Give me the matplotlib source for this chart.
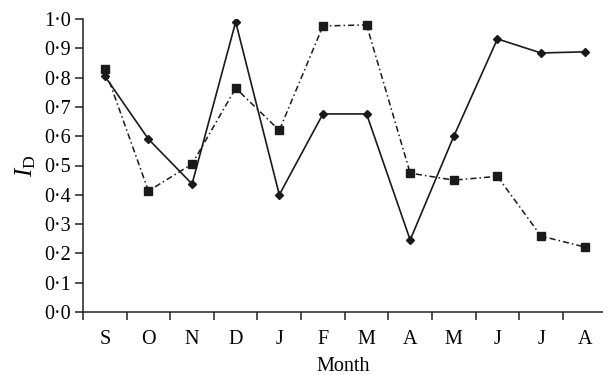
import numpy as np
import matplotlib.pyplot as plt

plt.rcParams['font.family'] = ['Liberation Serif', 'DejaVu Serif']
plt.rcParams['mathtext.fontset'] = 'custom'
plt.rcParams['mathtext.rm'] = 'Liberation Serif'
plt.rcParams['mathtext.it'] = 'Liberation Serif:italic'

months = ['S', 'O', 'N', 'D', 'J', 'F', 'M', 'A', 'M', 'J', 'J', 'A']
solid = [0.805, 0.59, 0.437, 0.99, 0.40, 0.676, 0.676, 0.246, 0.60, 0.932, 0.884, 0.888]
dashed = [0.83, 0.413, 0.505, 0.764, 0.62, 0.976, 0.98, 0.474, 0.45, 0.463, 0.259, 0.222]
yticks = [0.0, 0.1, 0.2, 0.3, 0.4, 0.5, 0.6, 0.7, 0.8, 0.9, 1.0]

fig = plt.figure(figsize=(6.03, 3.75), dpi=100)
ax = fig.add_axes([83 / 603, 1 - 312 / 375, 520 / 603, 293 / 375])

x = np.arange(len(months)) + 0.5
ax.plot(x, dashed, color='#1a1a1a', lw=1.1, linestyle=(0, (4, 2, 1, 2)),
        marker='s', markersize=6, zorder=3)
ax.plot(x, solid, color='#1a1a1a', lw=1.2, linestyle='-',
        marker='D', markersize=4, zorder=4)

ax.set_xlim(0, 11.92)
ax.set_ylim(0, 1.0)
ax.set_yticks(yticks)
ax.set_yticklabels([f'{v:.1f}'.replace('.', '\u00b7') for v in yticks])
ax.set_xticks(np.arange(0, 12))
ax.set_xticklabels([])
ax.set_xticks(x, minor=True)
ax.set_xticklabels(months, minor=True)
ax.tick_params(axis='both', which='both', labelsize=14.5, color='#222222', width=1.1)
ax.tick_params(axis='x', which='minor', length=0, pad=13)
ax.tick_params(axis='y', length=6, direction='out', pad=3)
ax.tick_params(axis='x', which='major', direction='out', length=6)

for s in ['top', 'right']:
    ax.spines[s].set_visible(False)
for s in ['left', 'bottom']:
    ax.spines[s].set_linewidth(1.1)
    ax.spines[s].set_color('#222222')

ax.set_xlabel('Month', fontsize=14.5, labelpad=6)
ax.set_ylabel(r'$I_{\rm D}$', fontsize=18, labelpad=4)

fig.savefig('out.png', dpi=100)
